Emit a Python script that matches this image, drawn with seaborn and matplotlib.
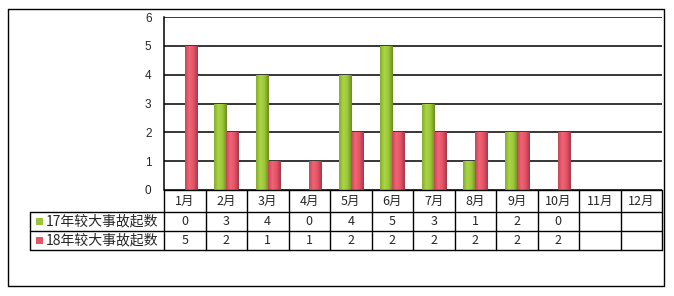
import numpy as np
import pandas as pd
import matplotlib
matplotlib.use("Agg")
import matplotlib.pyplot as plt
from matplotlib.colors import LinearSegmentedColormap, to_rgba
import seaborn as sns

months = ["1月", "2月", "3月", "4月", "5月", "6月", "7月", "8月", "9月", "10月", "11月", "12月"]
series_names = ["17年较大事故起数", "18年较大事故起数"]
vals_17 = [0, 3, 4, 0, 4, 5, 3, 1, 2, 0, None, None]
vals_18 = [5, 2, 1, 1, 2, 2, 2, 2, 2, 2, None, None]
y_ticks = [0, 1, 2, 3, 4, 5, 6]

sns.set_theme(style="white")
plt.rcParams['font.family'] = ['Noto Sans CJK SC', 'DejaVu Sans']

df = pd.DataFrame({
    "month": months * 2,
    "series": [series_names[0]] * 12 + [series_names[1]] * 12,
    "value": [np.nan if v is None else v for v in vals_17 + vals_18],
})

W, H = 674, 296
fig = plt.figure(figsize=(W / 100, H / 100), dpi=100)
fig.patch.set_facecolor("white")

px_l, px_r, px_t, px_b = 164, 662, 17, 190
ax = fig.add_axes([px_l / W, 1 - px_b / H, (px_r - px_l) / W, (px_b - px_t) / H])

base_cols = ["#9CC43A", "#E55468"]
sns.barplot(data=df, x="month", y="value", hue="series", hue_order=series_names,
            order=months, palette=base_cols,
            width=0.58, dodge=True, ax=ax, legend=False, errorbar=None,
            saturation=1, linewidth=0, zorder=3)

ax.set_yticks(y_ticks)
ax.set_yticklabels([str(t) for t in y_ticks], fontsize=8.5, family=['Liberation Sans', 'DejaVu Sans'])
ax.tick_params(axis='y', length=0, pad=9)
ax.set_xticks([])
ax.set_xlabel("")
ax.set_ylabel("")
for yv in y_ticks:
    ax.axhline(yv, color="black", lw=1.1, zorder=1)
for s in ["top", "right", "bottom"]:
    ax.spines[s].set_visible(False)
ax.spines["left"].set_color("black")
ax.spines["left"].set_linewidth(1.1)
ax.set_facecolor("white")

grads = [
    LinearSegmentedColormap.from_list("g", ["#86AC2C", "#AAD646", "#9CC63A", "#6A8A1E"]),
    LinearSegmentedColormap.from_list("r", ["#C04858", "#F26474", "#E45266", "#A23A4A"]),
]
grad = np.linspace(0, 1, 64).reshape(1, -1)
base_rgba = [np.array(to_rgba(c)) for c in base_cols]
for p in list(ax.patches):
    h = p.get_height()
    if not np.isfinite(h) or h <= 0:
        continue
    fc = np.array(p.get_facecolor())
    hue_idx = int(np.argmin([np.abs(fc - b).sum() for b in base_rgba]))
    x0 = p.get_x()
    w = p.get_width()
    im = ax.imshow(grad, cmap=grads[hue_idx], aspect="auto",
                   extent=(x0, x0 + w, 0, h), zorder=4, interpolation="bilinear")
    im.set_clip_path(p)
ax.set_xlim(-0.5, 11.5)
ax.set_ylim(0, 6)

ov = fig.add_axes([0, 0, 1, 1], zorder=5)
ov.set_xlim(0, W)
ov.set_ylim(H, 0)
ov.axis("off")
ov.patch.set_alpha(0)

lk = dict(color="black", lw=1.0)
ov.plot([8, 664, 664, 8, 8], [9, 9, 286, 286, 9], **lk)

col_w = (px_r - px_l) / 12
row_y = [190, 212, 231, 250]
leg_l = 30
ov.plot([px_l, px_r], [row_y[0], row_y[0]], **lk)
for yy in row_y[1:]:
    ov.plot([leg_l, px_r], [yy, yy], **lk)
for k in range(13):
    xx = px_l + k * col_w
    ov.plot([xx, xx], [row_y[0], row_y[3]], **lk)
ov.plot([leg_l, leg_l], [row_y[1], row_y[3]], **lk)

fs = 9
for k, m in enumerate(months):
    cx = px_l + (k + 0.5) * col_w
    ov.text(cx, (row_y[0] + row_y[1]) / 2, m, ha="center", va="center", fontsize=fs)
    for r, vals in enumerate([vals_17, vals_18]):
        v = vals[k]
        if v is not None:
            ov.text(cx, (row_y[r + 1] + row_y[r + 2]) / 2, str(v), ha="center",
                    va="center", fontsize=fs)

for r, name in enumerate(series_names):
    cy = (row_y[r + 1] + row_y[r + 2]) / 2
    ov.add_patch(plt.Rectangle((36, cy - 3.5), 7, 7, color=base_cols[r], lw=0))
    ov.text(46, cy, name, ha="left", va="center", fontsize=10)

fig.savefig("out.png", dpi=100, facecolor="white")
